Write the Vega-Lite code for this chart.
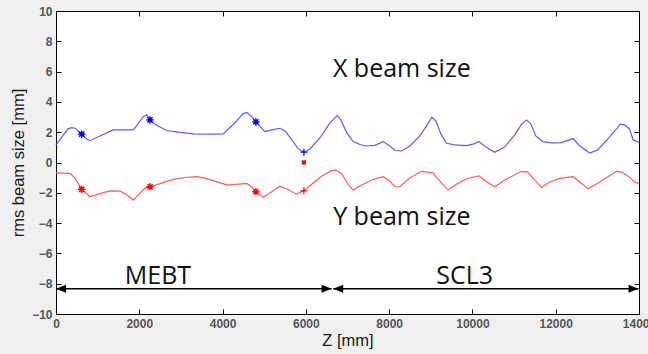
{
  "$schema": "https://vega.github.io/schema/vega-lite/v6.json",
  "width": 583,
  "height": 303,
  "autosize": {"type": "none"},
  "padding": {"left": 56, "top": 11, "right": 9, "bottom": 40},
  "background": "#f0f0f0",
  "datasets": {
    "beam": [
      {"series": "X", "z": 0, "y": 1.16}, {"series": "X", "z": 144, "y": 1.69}, {"series": "X", "z": 288, "y": 2.22}, {"series": "X", "z": 377, "y": 2.3}, {"series": "X", "z": 456, "y": 2.26}, {"series": "X", "z": 528, "y": 2.09}, {"series": "X", "z": 617, "y": 1.87}, {"series": "X", "z": 720, "y": 1.59}, {"series": "X", "z": 816, "y": 1.44}, {"series": "X", "z": 1056, "y": 1.75}, {"series": "X", "z": 1376, "y": 2.15}, {"series": "X", "z": 1856, "y": 2.15}, {"series": "X", "z": 1969, "y": 2.55}, {"series": "X", "z": 2096, "y": 3.03}, {"series": "X", "z": 2178, "y": 3.15}, {"series": "X", "z": 2257, "y": 2.81}, {"series": "X", "z": 2377, "y": 2.52}, {"series": "X", "z": 2658, "y": 2.11}, {"series": "X", "z": 2977, "y": 1.99}, {"series": "X", "z": 3297, "y": 1.89}, {"series": "X", "z": 3697, "y": 1.87}, {"series": "X", "z": 4016, "y": 1.89}, {"series": "X", "z": 4297, "y": 2.62}, {"series": "X", "z": 4489, "y": 3.21}, {"series": "X", "z": 4578, "y": 3.3}, {"series": "X", "z": 4681, "y": 3.08}, {"series": "X", "z": 4801, "y": 2.68}, {"series": "X", "z": 5017, "y": 2.04}, {"series": "X", "z": 5185, "y": 2.15}, {"series": "X", "z": 5377, "y": 2.26}, {"series": "X", "z": 5497, "y": 2.09}, {"series": "X", "z": 5665, "y": 1.49}, {"series": "X", "z": 5809, "y": 0.93}, {"series": "X", "z": 5953, "y": 0.68}, {"series": "X", "z": 6097, "y": 0.89}, {"series": "X", "z": 6337, "y": 1.62}, {"series": "X", "z": 6577, "y": 2.62}, {"series": "X", "z": 6752, "y": 3.1}, {"series": "X", "z": 6841, "y": 2.81}, {"series": "X", "z": 6985, "y": 1.95}, {"series": "X", "z": 7136, "y": 1.38}, {"series": "X", "z": 7297, "y": 1.19}, {"series": "X", "z": 7457, "y": 1.09}, {"series": "X", "z": 7657, "y": 1.13}, {"series": "X", "z": 7857, "y": 1.38}, {"series": "X", "z": 8017, "y": 1.09}, {"series": "X", "z": 8137, "y": 0.79}, {"series": "X", "z": 8298, "y": 0.76}, {"series": "X", "z": 8497, "y": 1.09}, {"series": "X", "z": 8737, "y": 1.75}, {"series": "X", "z": 8929, "y": 2.55}, {"series": "X", "z": 9025, "y": 2.99}, {"series": "X", "z": 9121, "y": 2.75}, {"series": "X", "z": 9241, "y": 1.89}, {"series": "X", "z": 9378, "y": 1.27}, {"series": "X", "z": 9577, "y": 1.16}, {"series": "X", "z": 9858, "y": 1.11}, {"series": "X", "z": 10033, "y": 1.23}, {"series": "X", "z": 10160, "y": 1.38}, {"series": "X", "z": 10321, "y": 1.03}, {"series": "X", "z": 10537, "y": 0.68}, {"series": "X", "z": 10777, "y": 1.03}, {"series": "X", "z": 11017, "y": 1.82}, {"series": "X", "z": 11185, "y": 2.55}, {"series": "X", "z": 11298, "y": 2.81}, {"series": "X", "z": 11401, "y": 2.55}, {"series": "X", "z": 11521, "y": 1.75}, {"series": "X", "z": 11689, "y": 1.38}, {"series": "X", "z": 11905, "y": 1.3}, {"series": "X", "z": 12137, "y": 1.31}, {"series": "X", "z": 12416, "y": 1.58}, {"series": "X", "z": 12577, "y": 1.09}, {"series": "X", "z": 12817, "y": 0.63}, {"series": "X", "z": 13009, "y": 0.83}, {"series": "X", "z": 13297, "y": 1.69}, {"series": "X", "z": 13554, "y": 2.53}, {"series": "X", "z": 13657, "y": 2.48}, {"series": "X", "z": 13777, "y": 2.2}, {"series": "X", "z": 13857, "y": 1.49}, {"series": "X", "z": 14000, "y": 1.34},
      {"series": "Y", "z": 0, "y": -0.68}, {"series": "Y", "z": 336, "y": -0.72}, {"series": "Y", "z": 456, "y": -1.03}, {"series": "Y", "z": 617, "y": -1.77}, {"series": "Y", "z": 816, "y": -2.26}, {"series": "Y", "z": 1056, "y": -2.05}, {"series": "Y", "z": 1297, "y": -1.87}, {"series": "Y", "z": 1537, "y": -1.89}, {"series": "Y", "z": 1705, "y": -2.15}, {"series": "Y", "z": 1856, "y": -2.48}, {"series": "Y", "z": 2017, "y": -2.02}, {"series": "Y", "z": 2137, "y": -1.69}, {"series": "Y", "z": 2257, "y": -1.6}, {"series": "Y", "z": 2497, "y": -1.39}, {"series": "Y", "z": 2816, "y": -1.11}, {"series": "Y", "z": 3097, "y": -0.99}, {"series": "Y", "z": 3378, "y": -0.93}, {"series": "Y", "z": 3577, "y": -1.03}, {"series": "Y", "z": 3937, "y": -1.34}, {"series": "Y", "z": 4137, "y": -1.49}, {"series": "Y", "z": 4579, "y": -1.38}, {"series": "Y", "z": 4705, "y": -1.62}, {"series": "Y", "z": 4801, "y": -1.93}, {"series": "Y", "z": 4977, "y": -2.3}, {"series": "Y", "z": 5137, "y": -2.02}, {"series": "Y", "z": 5377, "y": -1.56}, {"series": "Y", "z": 5545, "y": -1.75}, {"series": "Y", "z": 5778, "y": -2.09}, {"series": "Y", "z": 5953, "y": -1.87}, {"series": "Y", "z": 6145, "y": -1.42}, {"series": "Y", "z": 6385, "y": -0.89}, {"series": "Y", "z": 6617, "y": -0.54}, {"series": "Y", "z": 6721, "y": -0.5}, {"series": "Y", "z": 6865, "y": -0.76}, {"series": "Y", "z": 7009, "y": -1.42}, {"series": "Y", "z": 7136, "y": -1.82}, {"series": "Y", "z": 7345, "y": -1.49}, {"series": "Y", "z": 7617, "y": -1.11}, {"series": "Y", "z": 7857, "y": -0.94}, {"series": "Y", "z": 8017, "y": -1.23}, {"series": "Y", "z": 8137, "y": -1.59}, {"series": "Y", "z": 8257, "y": -1.6}, {"series": "Y", "z": 8497, "y": -1.03}, {"series": "Y", "z": 8778, "y": -0.58}, {"series": "Y", "z": 9050, "y": -0.68}, {"series": "Y", "z": 9217, "y": -1.23}, {"series": "Y", "z": 9417, "y": -1.82}, {"series": "Y", "z": 9625, "y": -1.42}, {"series": "Y", "z": 9858, "y": -1.07}, {"series": "Y", "z": 10160, "y": -0.89}, {"series": "Y", "z": 10321, "y": -1.23}, {"series": "Y", "z": 10537, "y": -1.6}, {"series": "Y", "z": 10777, "y": -1.16}, {"series": "Y", "z": 11178, "y": -0.58}, {"series": "Y", "z": 11329, "y": -0.63}, {"series": "Y", "z": 11497, "y": -1.16}, {"series": "Y", "z": 11658, "y": -1.64}, {"series": "Y", "z": 11857, "y": -1.29}, {"series": "Y", "z": 12097, "y": -1.05}, {"series": "Y", "z": 12416, "y": -0.94}, {"series": "Y", "z": 12577, "y": -1.29}, {"series": "Y", "z": 12777, "y": -1.74}, {"series": "Y", "z": 13058, "y": -1.29}, {"series": "Y", "z": 13459, "y": -0.58}, {"series": "Y", "z": 13587, "y": -0.63}, {"series": "Y", "z": 13777, "y": -0.98}, {"series": "Y", "z": 13897, "y": -1.29}, {"series": "Y", "z": 14000, "y": -1.38}
    ],
    "markers": [
      {"series": "X", "kind": "star", "z": 617, "y": 1.87},
      {"series": "X", "kind": "star", "z": 2257, "y": 2.81},
      {"series": "X", "kind": "star", "z": 4801, "y": 2.68},
      {"series": "X", "kind": "plus", "z": 5953, "y": 0.68},
      {"series": "Y", "kind": "star", "z": 617, "y": -1.77},
      {"series": "Y", "kind": "star", "z": 2257, "y": -1.6},
      {"series": "Y", "kind": "star", "z": 4801, "y": -1.93},
      {"series": "Y", "kind": "plus", "z": 5953, "y": -1.87},
      {"series": "Y", "kind": "square", "z": 5953, "y": 0.0}
    ],
    "labels": [
      {"text": "X beam size", "z": 8304, "y": 5.64},
      {"text": "Y beam size", "z": 8304, "y": -4.15},
      {"text": "MEBT", "z": 2448, "y": -8.0},
      {"text": "SCL3", "z": 9816, "y": -8.0}
    ],
    "arrows": [
      {"z": 0, "z2": 6617, "y": -8.33},
      {"z": 6657, "z2": 13990, "y": -8.33}
    ],
    "heads": [
      {"z": 0, "y": -8.33, "dir": "left"},
      {"z": 6617, "y": -8.33, "dir": "right"},
      {"z": 6657, "y": -8.33, "dir": "left"},
      {"z": 13990, "y": -8.33, "dir": "right"}
    ]
  },
  "layer": [
    {
      "encoding": {
        "x": {
          "field": "z", "type": "quantitative",
          "scale": {"domain": [0, 14000], "nice": false, "zero": false},
          "axis": {"orient": "bottom", "title": "Z [mm]", "values": [0, 2000, 4000, 6000, 8000, 10000, 12000, 14000], "format": "d", "titlePadding": 3, "labelFlush": false}
        },
        "y": {
          "field": "y", "type": "quantitative",
          "scale": {"domain": [-10, 10], "nice": false, "zero": false},
          "axis": {"orient": "left", "title": "rms beam size [mm]", "values": [-10, -8, -6, -4, -2, 0, 2, 4, 6, 8, 10], "titlePadding": 5, "labelFlush": false}
        }
      },
      "layer": [
        {
          "data": {"name": "beam"},
          "mark": {"type": "line", "strokeWidth": 1.2},
          "encoding": {
            "color": {"field": "series", "type": "nominal", "scale": {"domain": ["X", "Y"], "range": ["#5c5cff", "#ff5c5c"]}, "legend": null}
          }
        },
        {
          "data": {"name": "markers"},
          "transform": [{"filter": "datum.kind == 'star'"}],
          "mark": {"type": "point", "shape": "circle", "filled": true, "size": 22, "opacity": 1},
          "encoding": {
            "color": {"field": "series", "type": "nominal", "scale": {"domain": ["X", "Y"], "range": ["#0000ff", "#ff0000"]}, "legend": null}
          }
        },
        {
          "data": {"name": "markers"},
          "transform": [{"filter": "datum.kind == 'star'"}],
          "mark": {"type": "point", "shape": "M-1,0H1M0,-1V1M-0.7,-0.7L0.7,0.7M-0.7,0.7L0.7,-0.7", "filled": false, "size": 56, "strokeWidth": 1.3, "opacity": 1},
          "encoding": {
            "color": {"field": "series", "type": "nominal", "scale": {"domain": ["X", "Y"], "range": ["#0000ff", "#ff0000"]}, "legend": null}
          }
        },
        {
          "data": {"name": "markers"},
          "transform": [{"filter": "datum.kind == 'plus'"}],
          "mark": {"type": "point", "shape": "M-1,0H1M0,-1V1", "filled": false, "size": 49, "strokeWidth": 1.2, "opacity": 1},
          "encoding": {
            "color": {"field": "series", "type": "nominal", "scale": {"domain": ["X", "Y"], "range": ["#0000ff", "#ff0000"]}, "legend": null}
          }
        },
        {
          "data": {"name": "markers"},
          "transform": [{"filter": "datum.kind == 'square'"}],
          "mark": {"type": "point", "shape": "square", "filled": true, "size": 18, "opacity": 1},
          "encoding": {
            "color": {"field": "series", "type": "nominal", "scale": {"domain": ["X", "Y"], "range": ["#0000ff", "#ff0000"]}, "legend": null}
          }
        },
        {
          "data": {"name": "arrows"},
          "mark": {"type": "rule", "color": "#000", "strokeWidth": 1.6},
          "encoding": {"x2": {"field": "z2"}}
        },
        {
          "data": {"name": "heads"},
          "mark": {"type": "point", "filled": true, "color": "#000", "size": 100, "opacity": 1},
          "encoding": {
            "shape": {"field": "dir", "type": "nominal", "scale": {"domain": ["left", "right"], "range": ["M0,0L2,-0.8L2,0.8Z", "M0,0L-2,-0.8L-2,0.8Z"]}, "legend": null}
          }
        },
        {
          "data": {"name": "labels"},
          "mark": {"type": "text", "font": "Open Sans", "fontSize": 25, "color": "#111", "align": "center", "baseline": "alphabetic"},
          "encoding": {"text": {"field": "text", "type": "nominal"}}
        }
      ],
      "resolve": {"scale": {"color": "independent"}}
    },
    {
      "data": {"name": "beam"},
      "mark": {"type": "point", "opacity": 0},
      "encoding": {
        "x": {"field": "z", "type": "quantitative", "scale": {"domain": [0, 14000], "nice": false, "zero": false},
          "axis": {"orient": "top", "title": null, "labels": false, "values": [0, 2000, 4000, 6000, 8000, 10000, 12000, 14000]}},
        "y": {"field": "y", "type": "quantitative", "scale": {"domain": [-10, 10], "nice": false, "zero": false},
          "axis": {"orient": "right", "title": null, "labels": false, "values": [-10, -8, -6, -4, -2, 0, 2, 4, 6, 8, 10]}}
      }
    }
  ],
  "resolve": {"axis": {"x": "independent", "y": "independent"}},
  "config": {
    "view": {"stroke": "#000", "strokeWidth": 1, "fill": "#ffffff"},
    "axis": {
      "grid": false,
      "domainColor": "#000",
      "domainWidth": 1,
      "tickColor": "#000",
      "tickSize": -5,
      "tickWidth": 1,
      "labelPadding": 9,
      "labelFont": "Liberation Sans",
      "labelFontSize": 12,
      "labelFontWeight": "bold",
      "labelColor": "#555555",
      "labelFlush": false,
      "labelOverlap": false,
      "titleFont": "Liberation Sans",
      "titleFontSize": 16.5,
      "titleFontWeight": "normal",
      "titleColor": "#1a1a1a"
    }
  }
}
